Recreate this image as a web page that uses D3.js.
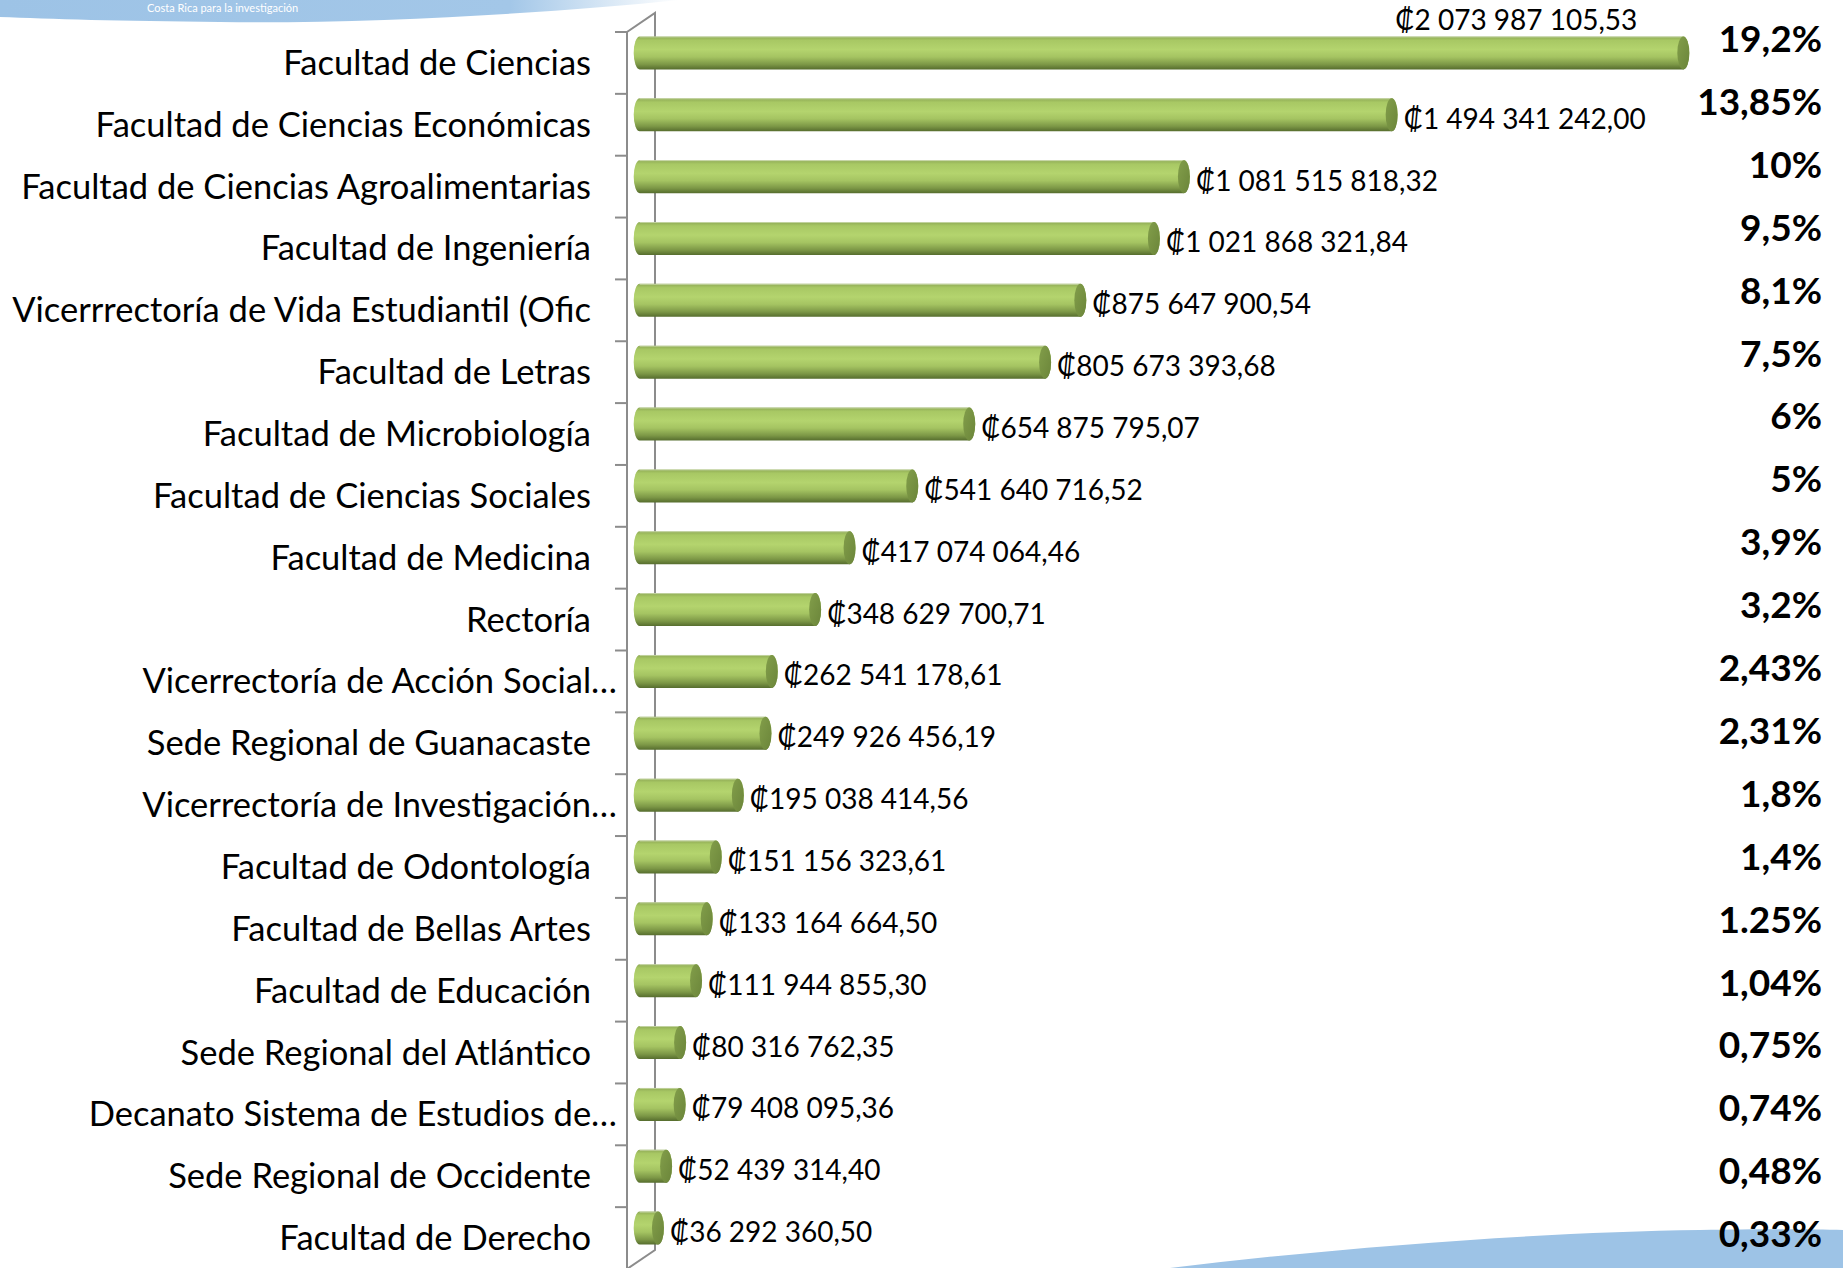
<!DOCTYPE html>
<html>
<head>
<meta charset="utf-8">
<script src="https://cdn.jsdelivr.net/npm/d3@7"></script>
<style>
  body { margin: 0; background: #fff; }
  text { font-family: Lato, "DejaVu Sans", sans-serif; }
</style>
</head>
<body>
<div id="chartContainer"></div>
<script>
// chart data
var categories = [
  "Facultad de Ciencias",
  "Facultad de Ciencias Económicas",
  "Facultad de Ciencias Agroalimentarias",
  "Facultad de Ingeniería",
  "Vicerrrectoría de Vida Estudiantil (Ofic",
  "Facultad de Letras",
  "Facultad de Microbiología",
  "Facultad de Ciencias Sociales",
  "Facultad de Medicina",
  "Rectoría",
  "Vicerrectoría de Acción Social…",
  "Sede Regional de Guanacaste",
  "Vicerrectoría de Investigación…",
  "Facultad de Odontología",
  "Facultad de Bellas Artes",
  "Facultad de Educación",
  "Sede Regional del Atlántico",
  "Decanato Sistema de Estudios de…",
  "Sede Regional de Occidente",
  "Facultad de Derecho"
];
var values = [
  2073987105.53, 1494341242.00, 1081515818.32, 1021868321.84, 875647900.54,
  805673393.68, 654875795.07, 541640716.52, 417074064.46, 348629700.71,
  262541178.61, 249926456.19, 195038414.56, 151156323.61, 133164664.50,
  111944855.30, 80316762.35, 79408095.36, 52439314.40, 36292360.50
];
var shares = [
  "19,2%", "13,85%", "10%", "9,5%", "8,1%", "7,5%", "6%", "5%", "3,9%", "3,2%",
  "2,43%", "2,31%", "1,8%", "1,4%", "1.25%", "1,04%", "0,75%", "0,74%", "0,48%", "0,33%"
];

var width = 1843, height = 1268;
var depth = { dx: 28, dy: -19 };   // 3d wall offset
var barH = 33, capRx = 6;

var svg = d3.select("#chartContainer").append("svg")
  .attr("width", width).attr("height", height);

// decorative blue swooshes from the slide background
var defs = svg.append("defs");
var tg = defs.append("linearGradient").attr("id", "topSwoosh");
tg.append("stop").attr("offset", "0%").attr("stop-color", "#9dc3e6");
tg.append("stop").attr("offset", "75%").attr("stop-color", "#a3c7e8");
tg.append("stop").attr("offset", "100%").attr("stop-color", "#ffffff");

svg.append("path")
  .attr("d", "M0,0 L680,0 C560,12 380,24 220,22 C120,21 50,19 0,17 Z")
  .attr("fill", "url(#topSwoosh)");
svg.append("text")
  .attr("x", 147).attr("y", 12)
  .style("font-size", "11px").style("fill", "#fff")
  .text("Costa Rica para la investigación");

svg.append("path")
  .attr("d", "M1170,1268 C1350,1246 1550,1232 1700,1230 C1760,1229 1810,1229 1843,1230 L1843,1268 Z")
  .attr("fill", "#9dc3e6");

// scales
var y = d3.scaleBand().domain(categories).range([32, 1269]);
var x = d3.scaleLinear().domain([0, 2500000000]).range([639.7, 1897.7]);

var frontX = 627;
var yTop = y.range()[0], yBottom = y.range()[1];
var axis = svg.append("g").attr("stroke", "#8c8c8c").attr("stroke-width", 2).attr("fill", "none");
axis.append("path").attr("d",
  "M" + frontX + "," + yBottom + "V" + yTop + "l" + depth.dx + "," + depth.dy +
  "V" + (yBottom + depth.dy) + "L" + frontX + "," + yBottom);
axis.selectAll("line.tick")
  .data(d3.range(categories.length + 1))
  .enter().append("line")
  .attr("x1", frontX - 12).attr("x2", frontX)
  .attr("y1", function (i) { return yTop + i * y.step(); })
  .attr("y2", function (i) { return yTop + i * y.step(); });

// cylinder gradient
var bg = defs.append("linearGradient").attr("id", "cyl")
  .attr("x1", 0).attr("y1", 0).attr("x2", 0).attr("y2", 1);
[["0%", "#8ea955"], ["12%", "#a8c864"], ["40%", "#b4d46e"], ["62%", "#a5c462"],
 ["85%", "#7c9746"], ["100%", "#566d2e"]].forEach(function (s) {
  bg.append("stop").attr("offset", s[0]).attr("stop-color", s[1]);
});
var cg = defs.append("linearGradient").attr("id", "cap")
  .attr("x1", 0).attr("y1", 0).attr("x2", 1).attr("y2", 1);
cg.append("stop").attr("offset", "0%").attr("stop-color", "#829e4a");
cg.append("stop").attr("offset", "100%").attr("stop-color", "#6b853a");

var rows = categories.map(function (c, i) { return { cat: c, value: values[i], share: shares[i] }; });
function cy(d) { return y(d.cat) + y.bandwidth() / 2 + depth.dy / 2 - 0.5; }

var bars = svg.append("g").selectAll("g").data(rows).enter().append("g");
bars.append("path")
  .attr("fill", "url(#cyl)")
  .attr("d", function (d) {
    var x0 = x(0), x1 = x(d.value), c = cy(d), ry = barH / 2;
    return "M" + x0 + "," + (c - ry) + "H" + x1 +
      "A" + capRx + "," + ry + " 0 0 1 " + x1 + "," + (c + ry) +
      "H" + x0 +
      "A" + capRx + "," + ry + " 0 0 1 " + x0 + "," + (c - ry) + "Z";
  });
bars.append("line")
  .attr("x1", function () { return x(0); })
  .attr("x2", function (d) { return x(d.value); })
  .attr("y1", function (d) { return cy(d) - barH / 2 + 0.5; })
  .attr("y2", function (d) { return cy(d) - barH / 2 + 0.5; })
  .attr("stroke", "#d8e4c0").attr("stroke-width", 1).attr("opacity", 0.7);
bars.append("ellipse")
  .attr("cx", function (d) { return x(d.value); })
  .attr("cy", cy)
  .attr("rx", capRx).attr("ry", barH / 2)
  .attr("fill", "url(#cap)");

// value labels
var locale = d3.formatLocale({ decimal: ",", thousands: " ", grouping: [3], currency: ["₡", ""] });
var fmt = locale.format("$,.2f");
var pctRight = 1822;
svg.append("g").selectAll("text").data(rows).enter().append("text")
  .style("font-size", "28px")
  .text(function (d) { return fmt(d.value); })
  .each(function (d) {
    var t = d3.select(this), w = this.getComputedTextLength();
    var xe = x(d.value) + capRx;
    if (xe + 6 + w > pctRight - 150) {
      // no room at the end: sit above the bar
      t.attr("x", xe - 52).attr("text-anchor", "end").attr("y", cy(d) - barH / 2 - 6);
    } else {
      t.attr("x", xe + 6).attr("y", cy(d) + 14);
    }
  });

// category labels
svg.append("g").selectAll("text").data(rows).enter().append("text")
  .attr("text-anchor", "end")
  .attr("x", function (d) { return /…$/.test(d.cat) ? 617 : 591; })
  .attr("y", function (d) { return y(d.cat) + y.bandwidth() / 2 + 12; })
  .style("font-size", "34.5px")
  .text(function (d) { return d.cat; });

// share labels
svg.append("g").selectAll("text").data(rows).enter().append("text")
  .attr("text-anchor", "end")
  .attr("x", pctRight)
  .attr("y", function (d, i) { return 52 + i * 62.9; })
  .style("font-size", "37px").style("font-weight", "bold")
  .text(function (d) { return d.share; });
</script>
</body>
</html>
